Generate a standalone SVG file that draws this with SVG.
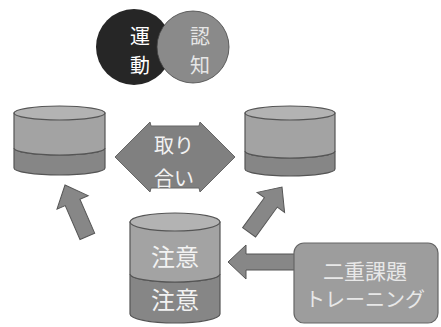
<svg xmlns="http://www.w3.org/2000/svg" width="441" height="327" viewBox="0 0 441 327">
<style>
text{font-family:"Noto Sans CJK JP","Noto Sans CJK SC",sans-serif;text-anchor:middle;dominant-baseline:central}
.cyl{stroke:#555;stroke-width:1.2}
.top{fill:#b3b3b3}
.up{fill:#a3a3a3}
.low{fill:#868686}
.arr{fill:#878787;stroke:#555;stroke-width:1}
.lt{fill:#f2f2f2}
</style>
<defs>
<polygon id="darr" points="0,0 17,19 8,19 8,56 -8,56 -8,19 -17,19"/>
</defs>
<rect width="441" height="327" fill="#fff"/>
<g id="circles">
<circle cx="134" cy="47" r="38" fill="#262626"/>
<circle cx="193" cy="47" r="36" fill="#8a8a8a" stroke="#444" stroke-width="0.8"/>
<text font-size="20" fill="#fff"><tspan x="140" y="35">運</tspan><tspan x="140" y="64">動</tspan></text>
<text font-size="20" fill="#e6e6e6"><tspan x="200" y="35">認</tspan><tspan x="200" y="64">知</tspan></text>
</g>
<g id="cyl-left" class="cyl">
<path class="low" d="M14,148 A45.5,7 0 0 0 105,148 L105,168 A45.5,7 0 0 1 14,168 Z"/>
<path class="up" d="M14,113 L105,113 L105,148 A45.5,7 0 0 1 14,148 Z"/>
<ellipse class="top" cx="59.5" cy="113" rx="45.5" ry="7"/>
</g>
<g id="cyl-right" class="cyl">
<path class="low" d="M245,151 A45,7 0 0 0 335,151 L335,169 A45,7 0 0 1 245,169 Z"/>
<path class="up" d="M245,113 L335,113 L335,151 A45,7 0 0 1 245,151 Z"/>
<ellipse class="top" cx="290" cy="113" rx="45" ry="7"/>
</g>
<g id="exchange">
<polygon points="115,157 150,122 151,126 199,126 200,122 235,157 200,192 199,188 151,188 150,192" fill="#808080" stroke="#666" stroke-width="1"/>
<text font-size="20" class="lt"><tspan x="174" y="144">取り</tspan><tspan x="174" y="177">合い</tspan></text>
</g>
<g id="cyl-bottom" class="cyl">
<path class="low" d="M130,274 A45,8 0 0 0 220,274 L220,314 A45,9 0 0 1 130,314 Z"/>
<path class="up" d="M130,222 L220,222 L220,274 A45,8 0 0 1 130,274 Z"/>
<ellipse class="top" cx="175" cy="222" rx="45" ry="9"/>
<text x="175" y="255" font-size="24" class="lt" stroke="none">注意</text>
<text x="175" y="298" font-size="24" class="lt" stroke="none">注意</text>
</g>
<g id="connectors">
<use href="#darr" class="arr" transform="translate(65,185) rotate(-23.5)"/>
<use href="#darr" class="arr" transform="translate(282,187) rotate(36)"/>
<polygon class="arr" points="228,262 246,245 246,254 298,254 298,270 246,270 246,279"/>
</g>
<g id="training">
<rect x="294" y="243" width="144" height="80" rx="10" fill="#9d9d9d" stroke="#666" stroke-width="1.2"/>
<text font-size="21" fill="#e8e8e8"><tspan x="365" y="270">二重課題</tspan><tspan x="365" y="298" font-size="20">トレーニング</tspan></text>
</g>
</svg>
